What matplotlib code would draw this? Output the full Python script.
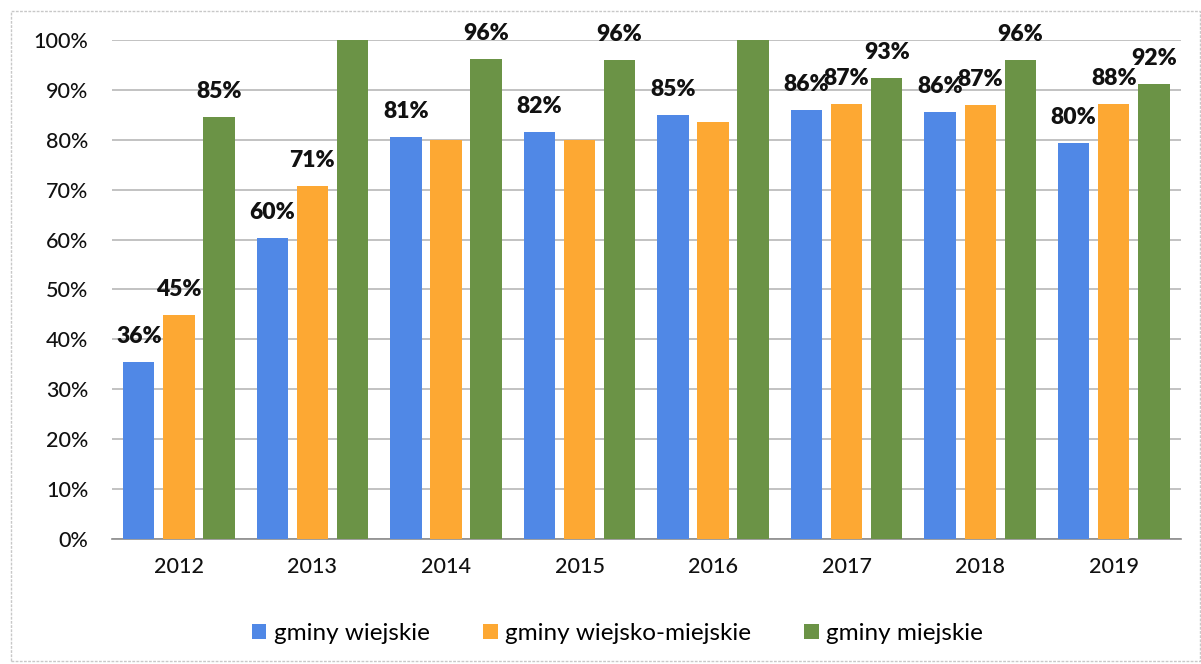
import matplotlib
matplotlib.use("Agg")
import matplotlib.pyplot as plt
from matplotlib.patches import Rectangle
import numpy as np

# dane (w %)
lata = ["2012", "2013", "2014", "2015", "2016", "2017", "2018", "2019"]
serie = ["gminy wiejskie", "gminy wiejsko-miejskie", "gminy miejskie"]

wiejskie = [35.5, 60.4, 80.5, 81.6, 85.0, 86.0, 85.5, 79.3]
wiejsko_miejskie = [44.9, 70.8, 80.0, 80.0, 83.6, 87.1, 87.0, 87.2]
miejskie = [84.6, 100.0, 96.1, 95.9, 100.0, 92.3, 96.0, 91.2]

# etykiety danych (None = brak etykiety na wykresie)
etyk_wiejskie = ["36%", "60%", "81%", "82%", "85%", "86%", "86%", "80%"]
etyk_wiejsko_miejskie = ["45%", "71%", None, None, None, "87%", "87%", "88%"]
etyk_miejskie = ["85%", None, "96%", "96%", None, "93%", "96%", "92%"]

kolory = ["#5088e6", "#fda833", "#6b9346"]

plt.rcParams["font.family"] = ["Lato", "DejaVu Sans"]

fig = plt.figure(figsize=(12.01, 6.64), dpi=100)
ax = fig.add_axes([0.0933, 0.1883, 0.8897, 0.7515])

# ramka wokół całego wykresu
fig.patches.append(Rectangle((0.009, 0.005), 0.99, 0.978, transform=fig.transFigure,
                             fill=False, edgecolor="#c8c8c8", linewidth=1.0,
                             linestyle=(0, (2, 1))))

x = np.arange(len(lata))
szer = 0.235
krok = 0.3

dane = [wiejskie, wiejsko_miejskie, miejskie]
etykiety = [etyk_wiejskie, etyk_wiejsko_miejskie, etyk_miejskie]

for i, (wart, et, kol, nazwa) in enumerate(zip(dane, etykiety, kolory, serie)):
    pos = x + (i - 1) * krok
    ax.bar(pos, wart, width=szer, color=kol, label=nazwa, zorder=3)
    for p, v, t in zip(pos, wart, et):
        if t is None:
            continue
        ax.text(p, v + 3.0, t, ha="center", va="bottom", fontsize=16.5,
                fontweight="heavy", color="#111111", zorder=4)

ax.set_xlim(-0.5, len(lata) - 0.5)
ax.set_ylim(0, 100)
ax.set_yticks(np.arange(0, 101, 10))
ax.set_yticklabels([f"{v}%" for v in range(0, 101, 10)])
ax.set_xticks(x)
ax.set_xticklabels(lata)

ax.tick_params(axis="both", length=0, labelsize=15.5, colors="#111111")
ax.tick_params(axis="y", pad=17)
ax.tick_params(axis="x", pad=13)
for lab in ax.get_xticklabels() + ax.get_yticklabels():
    lab.set_fontweight("medium")

ax.grid(axis="y", color="#b8b8b8", linewidth=1.2, zorder=0)
ax.set_axisbelow(True)
for s in ["top", "right", "left"]:
    ax.spines[s].set_visible(False)
ax.spines["bottom"].set_color("#8c8c8c")
ax.spines["bottom"].set_linewidth(1.2)

ax.legend(loc="upper center", bbox_to_anchor=(0.473, -0.125), ncol=3, frameon=False,
          fontsize=17.5, handlelength=0.6, handleheight=0.6, handletextpad=0.3,
          columnspacing=2.2)

fig.savefig("out.png", dpi=100)
